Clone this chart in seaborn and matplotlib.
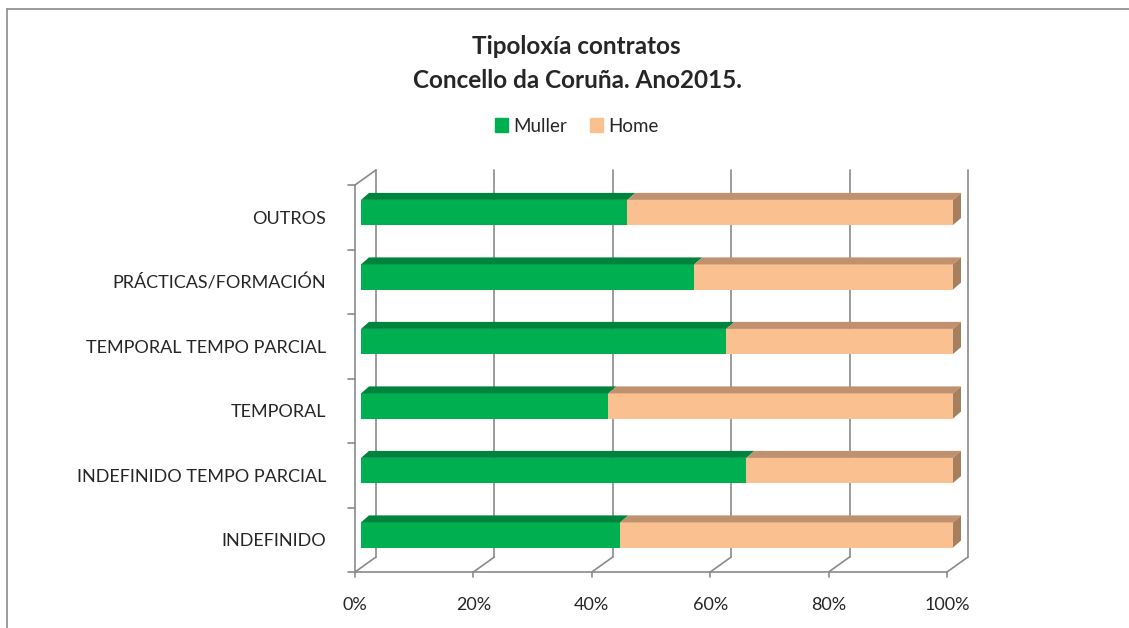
import matplotlib
matplotlib.use("Agg")
import matplotlib.pyplot as plt
import seaborn as sns
from matplotlib.transforms import ScaledTranslation, IdentityTransform
from matplotlib.patches import Patch
from matplotlib.lines import Line2D

# data (percent of contracts), top to bottom as in the chart
categories = ["OUTROS", "PRÁCTICAS/FORMACIÓN", "TEMPORAL TEMPO PARCIAL",
              "TEMPORAL", "INDEFINIDO TEMPO PARCIAL", "INDEFINIDO"]
muller = [45.0, 56.3, 61.7, 41.8, 65.1, 43.8]
home = [55.0, 43.7, 38.3, 58.2, 34.9, 56.2]
xticks = [0, 20, 40, 60, 80, 100]

GREEN, GREEN_TOP = "#00B050", "#00843D"
ORANGE, ORANGE_TOP, ORANGE_SIDE = "#FAC090", "#C0916E", "#A67F5F"
GRID = "#8A8A8A"
FONT = "Lato"

W, H = 1129, 628
AX_L, AX_R, AX_T, AX_B = 361, 953, 185, 572   # pixel box of the bar area
BAR_W = 0.39
DEPTH_X, DEPTH_Y = 8, 7       # bar 3d depth in px
WALL_X, WALL_Y = 15, 15       # back wall offset in px
FRONT_X = -6                  # front floor offset in px

sns.set_style("white")
plt.rcParams["font.family"] = [FONT, "DejaVu Sans"]

fig = plt.figure(figsize=(W / 100, H / 100), dpi=100)
ax = fig.add_axes([AX_L / W, 1 - AX_B / H, (AX_R - AX_L) / W, (AX_B - AX_T) / H])

total = [m + h for m, h in zip(muller, home)]
sns.barplot(x=total, y=categories, order=categories, color=ORANGE, saturation=1,
            width=BAR_W, linewidth=0, ax=ax, orient="h")
sns.barplot(x=muller, y=categories, order=categories, color=GREEN, saturation=1,
            width=BAR_W, linewidth=0, ax=ax, orient="h")

ax.set_xlim(0, 100)
ax.set_ylim(5.574, -0.426)
for s in ax.spines.values():
    s.set_visible(False)
ax.set_xlabel("")
ax.set_ylabel("")
ax.patch.set_alpha(0)

# 3d faces of the bars
sx = 100 / (AX_R - AX_L)
sy = 6.0 / (AX_B - AX_T)
dxd, dyd = DEPTH_X * sx, DEPTH_Y * sy
for i, (m, h) in enumerate(zip(muller, home)):
    top = i - BAR_W / 2
    back = top - dyd
    ax.fill([0, m, m + dxd, dxd], [top, top, back, back], color=GREEN_TOP, lw=0, clip_on=False)
    ax.fill([m, m + h, m + h + dxd, m + dxd], [top, top, back, back], color=ORANGE_TOP, lw=0, clip_on=False)
    ax.fill([m + h, m + h + dxd, m + h + dxd, m + h], [top, back, back + BAR_W, top + BAR_W],
            color=ORANGE_SIDE, lw=0, clip_on=False)

# ticks and labels
ax.set_xticks(xticks)
ax.set_xticklabels([f"{t}%" for t in xticks], fontsize=13)
ax.set_yticks(range(len(categories)))
ax.set_yticklabels(categories, fontsize=13)
ax.tick_params(axis="x", length=0, pad=18)
ax.tick_params(axis="y", length=0, pad=25)
for t in ax.get_xticklabels():
    t.set_transform(t.get_transform() + ScaledTranslation(FRONT_X / 100, 0, fig.dpi_scale_trans))
for t in ax.get_yticklabels():
    t.set_transform(t.get_transform() + ScaledTranslation(0, -5 / 100, fig.dpi_scale_trans))


def disp(xd, yfrac, dx=0, dy=0):
    X = ax.transData.transform((xd, 0))[0] + dx
    Y = ax.transAxes.transform((0, yfrac))[1] + dy
    return X, Y


def seg(p1, p2, z=0.5):
    ax.add_line(Line2D([p1[0], p2[0]], [p1[1], p2[1]], color=GRID, lw=1.2,
                       transform=IdentityTransform(), clip_on=False, zorder=z))


# back wall grid
for p in xticks:
    seg(disp(p, 0, WALL_X, WALL_Y), disp(p, 1, WALL_X, WALL_Y))
    seg(disp(p, 0, FRONT_X, 0), disp(p, 0, WALL_X, WALL_Y))
    seg(disp(p, 0, FRONT_X, 0), disp(p, 0, FRONT_X, -5))
seg(disp(0, 0, FRONT_X, 0), disp(100, 0, FRONT_X, 0))
seg(disp(0, 0, FRONT_X, 0), disp(0, 1, FRONT_X, 0))
seg(disp(0, 1, FRONT_X, 0), disp(0, 1, WALL_X, WALL_Y))
for k in range(len(categories) + 1):
    f = k / len(categories)
    seg(disp(0, f, FRONT_X, 0), disp(0, f, FRONT_X - 7, 0))

# title and legend
fig.text(576 / W, 1 - 47 / H, "Tipoloxía contratos", ha="center", va="center",
         fontsize=17.5, fontweight="bold")
fig.text(577 / W, 1 - 80 / H, "Concello da Coruña. Ano2015.", ha="center", va="center",
         fontsize=17.5, fontweight="bold")
handles = [Patch(color=GREEN, label="Muller"), Patch(color=ORANGE, label="Home")]
fig.legend(handles=handles, ncol=2, loc="center", bbox_to_anchor=(577 / W, 1 - 126 / H),
           frameon=False, fontsize=13.5, handlelength=0.7, handleheight=0.7,
           handletextpad=0.3, columnspacing=1.2)

# chart area border
fig.add_artist(Line2D([7 / W, 7 / W], [-0.01, 1 - 9 / H], color=GRID, lw=1.2))
fig.add_artist(Line2D([7 / W, 1.01], [1 - 9 / H, 1 - 9 / H], color=GRID, lw=1.2))

fig.savefig("out.png", dpi=100, facecolor="white")
